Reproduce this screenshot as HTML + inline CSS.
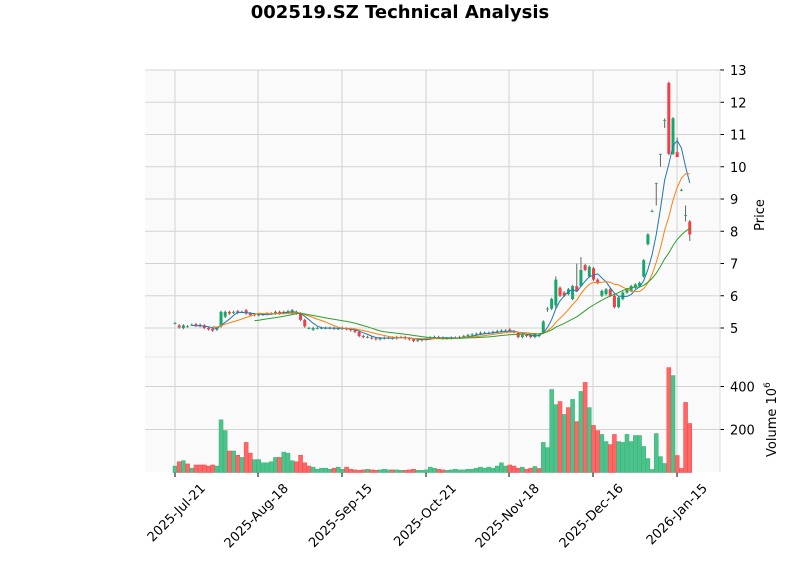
<!DOCTYPE html>
<html><head><meta charset="utf-8"><style>
body{margin:0;background:#fff;width:800px;height:575px;overflow:hidden;font-family:"DejaVu Sans","Liberation Sans",sans-serif}
</style></head><body>
<svg id="s" width="800" height="575" xmlns="http://www.w3.org/2000/svg" font-family="DejaVu Sans, Liberation Sans, sans-serif">
<rect x="145" y="70" width="575" height="287" fill="#fafafa"/>
<rect x="145" y="357" width="575" height="115" fill="#fafafa"/>
<text x="400" y="18" text-anchor="middle" font-size="18" font-weight="bold">002519.SZ Technical Analysis</text>
<g id="g"></g>
<text transform="translate(764,215) rotate(-90)" text-anchor="middle" font-size="13">Price</text>
<text transform="translate(776,457) rotate(-90)" font-size="13">Volume  10<tspan dy="-6" font-size="9">6</tspan></text>
</svg>
<script>
var oc=[[5.15,5.15],[5.08,5.02],[5.0,5.08],[5.05,5.05],[5.1,5.1],[5.12,5.08],[5.1,5.06],[5.08,5.0],[5.0,4.96],[4.98,4.92],[4.95,5.0],
[5.05,5.5],[5.35,5.5],[5.5,5.45],[5.47,5.5],[5.52,5.47],[5.5,5.5],[5.55,5.45],[5.45,5.4],[5.42,5.4],[5.4,5.42],[5.42,5.42],[5.43,5.45],[5.45,5.45],[5.45,5.5],[5.5,5.45],[5.48,5.5],[5.5,5.52],[5.45,5.55],[5.5,5.45],
[5.45,5.25],[5.25,5.05],[5.0,5.0],[4.95,5.0],[5.0,5.0],[5.0,5.0],[5.0,5.0],[5.0,5.0],[5.0,4.98],[4.98,4.98],[5.0,4.98],[4.98,4.97],[4.97,4.93],[4.93,4.88],[4.88,4.75],[4.75,4.72],[4.72,4.72],[4.7,4.68],[4.68,4.65],[4.65,4.68],
[4.68,4.7],[4.7,4.7],[4.7,4.68],[4.68,4.72],[4.72,4.72],[4.72,4.68],[4.68,4.65],[4.65,4.6],[4.6,4.62],[4.62,4.65],[4.65,4.68],[4.68,4.7],[4.7,4.72],[4.72,4.7],[4.7,4.68],[4.68,4.68],[4.68,4.7],[4.7,4.7],[4.7,4.72],[4.72,4.75],
[4.75,4.78],[4.78,4.8],[4.8,4.82],[4.82,4.85],[4.85,4.85],[4.85,4.85],[4.85,4.88],[4.88,4.9],[4.9,4.92],[4.92,4.92],[4.95,4.9],[4.9,4.88],[4.85,4.72],[4.72,4.78],[4.78,4.75],[4.78,4.72],[4.72,4.8],[4.75,4.78],
[4.85,5.2],[5.6,5.6],[5.6,5.9],[5.7,6.5],[6.25,6.0],[6.1,6.0],[6.05,6.2],[5.9,6.3],[6.3,6.15],[6.3,6.8],[6.95,6.8],[6.6,6.9],[6.85,6.5],[6.5,6.4],[6.0,6.15],[6.05,6.2],[6.2,6.0],[6.0,5.65],[5.65,5.95],[5.9,6.1],[6.1,6.2],[6.15,6.3],[6.25,6.35],[6.3,6.4],
[6.6,7.1],[7.6,7.9],[8.63,8.63],[9.5,9.5],[10.4,10.4],[11.45,11.45],[12.6,10.4],[10.4,11.5],[10.45,10.3],[9.28,9.28],[8.5,8.5],[8.3,7.9]];
var pre=[30,50,55,40,20,35,35,35,30,35,30,245,195,100,100,80,70,140,90,60,60,45,45,50,70,70,95,90,55,50,80,45,30,25,15,20,20,15,20,25,15,25,15,12,10,12,15,12,10,12,15,12,12,12,10,10,12,15,10,10,12,25,20,15,12,10,12,15,12,12,15,15,20,25,20,25,20,30,45,30,35,30,20,25,15,20,28,19];
var post=[140,116,386,316,330,270,302,340,237,377,419,302,219,195,177,144,130,177,144,140,177,144,172,172,121,65,14,181,74,42,488,451,79,19,326,228];
var pc='gggrgrgrgrgrrggrrggggggggggggrgrrrr';pc='gggg'+'rgrgrgrgrrggrrggggggggggggrgrrrr'.slice(0,32);
pc='ggggrgrgrgrgrrggrrggggggggggggrgrrrr';
var vol=pre.concat(post);
var N=oc.length,hl={};hl[N-35]=[5.5,5.65];hl[N-27]=[6.8,7.2];hl[N-28]=[6.3,7.0];hl[N-9]=[8.8,9.5];hl[N-8]=[10.0,10.4];hl[N-7]=[11.2,11.5];hl[N-4]=[10.3,10.9];hl[N-2]=[8.3,8.8];hl[N-1]=[7.7,8.35];hl[N-33]=[5.6,6.6];
var g='',G='#16a86b',R='#f23e44',VG='#4cc38a',VR='#ff6666';
function X(i){return 175+i*4.185}function Y(p){return 328-(p-5)*32.25}function V(v){return 472.5-v*0.215}
for(var p=5;p<=13;p++){g+='<line x1="145" x2="720" y1="'+Y(p)+'" y2="'+Y(p)+'" stroke="#d3d3d3"/><line x1="720" x2="724" y1="'+Y(p)+'" y2="'+Y(p)+'" stroke="#000"/><text x="730" y="'+(Y(p)+5)+'" font-size="13">'+p+'</text>';}
[200,400].forEach(function(v){g+='<line x1="145" x2="720" y1="'+V(v)+'" y2="'+V(v)+'" stroke="#d3d3d3"/><line x1="720" x2="724" y1="'+V(v)+'" y2="'+V(v)+'" stroke="#000"/><text x="730" y="'+(V(v)+5)+'" font-size="13">'+v+'</text>';});
g+='<line x1="145" x2="720" y1="357" y2="357" stroke="#e6e6e6"/><line x1="145" x2="720" y1="70" y2="70" stroke="#d3d3d3"/>';
var dates=['2025-Jul-21','2025-Aug-18','2025-Sep-15','2025-Oct-21','2025-Nov-18','2025-Dec-16','2026-Jan-15'],dx=[175,258,342,426,509,593,677];
dx.forEach(function(x,k){g+='<line x1="'+x+'" x2="'+x+'" y1="70" y2="472" stroke="#d3d3d3"/><line x1="'+x+'" x2="'+x+'" y1="472" y2="477" stroke="#000"/><text transform="translate('+(x+31)+',489) rotate(-45)" text-anchor="end" font-size="13">'+dates[k]+'</text>';});
var cl=oc.map(function(a){return a[1]});
for(var i=0;i<N;i++){var o=oc[i][0],c=oc[i][1],x=X(i),col=c>=o?G:R;
 var h=hl[i]?hl[i][1]:Math.max(o,c)+0.04,l=hl[i]?hl[i][0]:Math.min(o,c)-0.04;
 g+='<line x1="'+x+'" x2="'+x+'" y1="'+Y(h)+'" y2="'+Y(l)+'" stroke="#666" stroke-width="1"/>';
 var t=Y(Math.max(o,c)),b=Y(Math.min(o,c));g+='<rect x="'+(x-1.5)+'" y="'+t+'" width="3" height="'+Math.max(b-t,0.8)+'" fill="'+col+'"/>';
 if(i>=vol.length)continue;var vv=vol[i];
 var vc;if(i>=pre.length){vc=pc[i-pre.length]=='r'?VR:VG;}else{vc=(i>0&&c<cl[i-1])?VR:VG;}
 g+='<rect x="'+(x-2)+'" y="'+V(vv)+'" width="4" height="'+(472.5-V(vv))+'" fill="'+vc+'" stroke="'+(vc==VR?'#f04a4a':'#3bb07a')+'" stroke-width="0.5"/>';}
function ma(n,colr){var pts=[];for(var i=n-1;i<cl.length;i++){var s=0;for(var k=0;k<n;k++)s+=cl[i-k];pts.push(X(i).toFixed(1)+','+Y(s/n).toFixed(1));}g+='<polyline points="'+pts.join(' ')+'" fill="none" stroke="'+colr+'" stroke-width="1"/>';}
ma(5,'#1f77b4');ma(10,'#ff7f0e');ma(20,'#2ca02c');
g+='<line x1="720" x2="720" y1="70" y2="472" stroke="#ddd"/>';
document.getElementById('g').innerHTML=g;
</script>
</body></html>
